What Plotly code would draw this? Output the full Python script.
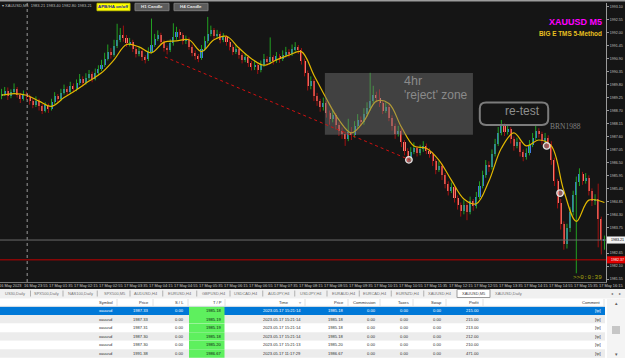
import plotly.graph_objects as go

W, H = 625, 358
def px(x): return x / W
def py(y): return 1 - y / H

# ---------------- chart data (XAUUSD M5) ----------------
first_open = 1989.30
close = [1989.40, 1989.55, 1989.30, 1989.48, 1989.62, 1989.35, 1989.20, 1989.42, 1989.28, 1989.10,
         1988.95, 1989.12, 1988.88, 1988.70, 1988.92, 1988.78, 1989.05, 1989.30, 1989.18, 1989.45,
         1989.62, 1989.50, 1989.75, 1989.60, 1989.85, 1990.05, 1989.88, 1990.10, 1990.25, 1990.05,
         1990.30, 1990.45, 1990.62, 1990.90, 1991.20, 1991.05, 1991.45, 1991.70, 1991.92, 1991.78,
         1991.55, 1991.60, 1991.30, 1991.10, 1991.22, 1990.95, 1990.88, 1991.20, 1991.50, 1991.75,
         1991.90, 1991.60, 1991.35, 1991.25, 1991.55, 1991.80, 1992.02, 1991.90, 1991.65, 1991.70,
         1991.40, 1991.15, 1991.00, 1990.92, 1991.30, 1991.65, 1991.95, 1992.10, 1991.85, 1991.95,
         1991.70, 1991.80, 1991.60, 1991.40, 1991.20, 1991.30, 1991.05, 1990.85, 1990.95, 1990.70,
         1990.55, 1990.62, 1990.40, 1990.65, 1990.90, 1990.75, 1990.95, 1990.80, 1991.00, 1990.88,
         1991.05, 1991.20, 1991.10, 1991.30, 1991.38, 1991.25, 1990.80, 1990.30, 1989.75, 1989.95,
         1989.30, 1989.10, 1988.85, 1989.00, 1988.60, 1988.35, 1988.50, 1988.10, 1987.85, 1987.70,
         1987.48, 1987.80, 1987.65, 1988.05, 1988.30, 1988.20, 1988.55, 1988.80, 1989.10, 1989.35,
         1989.25, 1989.00, 1988.70, 1988.85, 1988.40, 1988.05, 1987.70, 1987.85, 1987.35, 1987.00,
         1986.70, 1986.95, 1987.10, 1986.90, 1987.05, 1987.20, 1987.00, 1986.85, 1986.55, 1986.20,
         1986.35, 1985.95, 1985.60, 1985.30, 1985.45, 1985.00, 1984.70, 1984.45, 1984.70, 1984.40,
         1984.85, 1984.65, 1985.05, 1985.50, 1985.95, 1986.40, 1986.30, 1986.85, 1987.30, 1987.75,
         1988.05, 1987.80, 1987.90, 1987.50, 1987.20, 1987.35, 1986.95, 1986.75, 1986.90, 1987.25,
         1987.55, 1987.85, 1987.70, 1987.40, 1987.55, 1987.30, 1986.60, 1985.70, 1984.80, 1983.90,
         1983.05, 1983.70, 1984.40, 1985.10, 1985.65, 1986.00, 1985.70, 1985.85, 1985.30, 1984.85,
         1984.95, 1984.10, 1983.21, 1983.21]
high = [1989.62, 1989.70, 1989.68, 1989.60, 1989.85, 1989.70, 1989.45, 1989.55, 1989.50, 1989.38,
        1989.22, 1989.30, 1989.20, 1988.98, 1989.05, 1989.00, 1989.20, 1989.48, 1989.40, 1989.62,
        1989.80, 1989.72, 1989.92, 1989.85, 1990.02, 1990.25, 1990.15, 1990.28, 1990.42, 1990.35,
        1990.48, 1990.62, 1990.85, 1991.15, 1991.50, 1991.35, 1991.70, 1992.38, 1992.20, 1992.30,
        1991.90, 1991.78, 1991.70, 1991.40, 1991.38, 1991.30, 1991.05, 1991.38, 1992.60, 1991.95,
        1992.10, 1992.00, 1991.70, 1991.45, 1991.72, 1992.40, 1992.25, 1992.15, 1992.00, 1991.88,
        1991.80, 1991.50, 1991.25, 1991.10, 1991.48, 1991.85, 1992.67, 1992.30, 1992.20, 1992.12,
        1992.05, 1991.98, 1991.90, 1991.70, 1991.50, 1991.48, 1991.40, 1991.15, 1991.12, 1991.05,
        1990.80, 1990.80, 1990.70, 1990.82, 1991.10, 1991.00, 1991.80, 1991.05, 1991.18, 1991.10,
        1991.25, 1991.40, 1991.30, 1991.50, 1991.60, 1991.48, 1991.35, 1990.90, 1990.40, 1990.15,
        1990.05, 1989.45, 1989.20, 1989.25, 1989.10, 1988.70, 1988.75, 1988.60, 1988.20, 1987.98,
        1987.80, 1988.35, 1988.00, 1988.25, 1988.55, 1988.45, 1988.80, 1989.05, 1990.30, 1989.75,
        1989.50, 1989.60, 1989.10, 1989.05, 1988.95, 1988.50, 1988.15, 1988.05, 1987.95, 1987.45,
        1987.10, 1987.15, 1987.35, 1987.20, 1987.25, 1987.40, 1987.30, 1987.10, 1986.95, 1986.65,
        1986.55, 1986.45, 1986.05, 1985.70, 1985.65, 1985.55, 1985.10, 1984.80, 1984.90, 1984.80,
        1985.05, 1984.95, 1985.25, 1985.70, 1986.15, 1986.60, 1986.55, 1987.05, 1987.50, 1988.00,
        1988.30, 1988.15, 1988.10, 1988.00, 1987.60, 1987.55, 1987.45, 1987.05, 1987.10, 1987.45,
        1987.75, 1988.10, 1987.95, 1987.80, 1987.75, 1987.65, 1987.40, 1986.70, 1985.80, 1984.95,
        1984.00, 1983.90, 1984.60, 1985.30, 1985.90, 1986.25, 1986.10, 1986.05, 1985.95, 1985.40,
        1985.15, 1985.60, 1984.20, 1983.40]
low = [1989.18, 1989.32, 1989.15, 1989.22, 1989.40, 1989.25, 1989.02, 1989.12, 1989.15, 1988.95,
       1988.80, 1988.85, 1988.70, 1988.55, 1988.62, 1988.60, 1988.70, 1988.98, 1989.05, 1989.10,
       1989.38, 1989.35, 1989.42, 1989.48, 1989.52, 1989.78, 1989.72, 1989.80, 1990.00, 1989.90,
       1989.98, 1990.20, 1990.38, 1990.55, 1990.82, 1990.90, 1990.98, 1991.35, 1991.60, 1991.62,
       1991.40, 1991.42, 1991.18, 1990.95, 1991.00, 1990.80, 1990.70, 1990.80, 1991.12, 1991.40,
       1991.65, 1991.48, 1991.20, 1991.08, 1991.18, 1991.45, 1991.70, 1991.75, 1991.50, 1991.52,
       1991.28, 1991.00, 1990.85, 1990.75, 1990.85, 1991.22, 1991.55, 1991.85, 1991.72, 1991.75,
       1991.55, 1991.60, 1991.45, 1991.25, 1991.05, 1991.10, 1990.90, 1990.70, 1990.75, 1990.55,
       1990.40, 1990.42, 1990.25, 1990.32, 1990.55, 1990.60, 1990.68, 1990.65, 1990.72, 1990.72,
       1990.80, 1990.95, 1990.95, 1991.02, 1991.20, 1991.10, 1990.65, 1990.15, 1989.55, 1989.60,
       1989.10, 1988.90, 1988.65, 1988.70, 1988.40, 1988.10, 1988.20, 1987.90, 1987.62, 1987.50,
       1987.20, 1987.40, 1987.45, 1987.55, 1987.95, 1988.05, 1988.10, 1988.45, 1988.70, 1989.00,
       1989.05, 1988.85, 1988.55, 1988.60, 1988.25, 1987.85, 1987.50, 1987.60, 1987.15, 1986.80,
       1986.50, 1986.60, 1986.85, 1986.75, 1986.80, 1986.95, 1986.85, 1986.70, 1986.35, 1986.00,
       1986.10, 1985.75, 1985.40, 1985.10, 1985.20, 1984.80, 1984.50, 1984.20, 1984.30, 1984.05,
       1984.30, 1984.45, 1984.55, 1984.95, 1985.40, 1985.85, 1986.10, 1986.20, 1986.75, 1987.20,
       1987.65, 1987.62, 1987.68, 1987.30, 1987.00, 1987.10, 1986.75, 1986.55, 1986.62, 1986.80,
       1987.15, 1987.45, 1987.55, 1987.25, 1987.30, 1987.10, 1986.40, 1985.50, 1984.55, 1983.65,
       1982.80, 1982.85, 1983.55, 1984.25, 1981.80, 1985.50, 1985.55, 1985.60, 1985.10, 1984.65,
       1984.70, 1982.90, 1982.60, 1982.80]
opens = [first_open] + close[:-1]

# yellow moving-average line (read at every 4th bar)
ma_bars = [0, 4, 8, 12, 16, 20, 24, 28, 32, 36, 40, 44, 48, 52, 56, 60, 64, 68, 72, 76, 80, 84, 88,
           92, 96, 100, 104, 108, 112, 116, 120, 124, 128, 132, 136, 140, 144, 148, 152, 156, 160,
           164, 168, 172, 176, 180, 184, 188, 193]
ma_vals = [1989.35, 1989.42, 1989.35, 1989.10, 1988.88, 1989.25, 1989.58, 1989.95, 1990.30, 1990.85,
           1991.50, 1991.40, 1991.15, 1991.60, 1991.65, 1991.70, 1991.20, 1991.70, 1991.85, 1991.35,
           1990.90, 1990.62, 1990.85, 1991.05, 1991.20, 1990.20, 1989.20, 1988.30, 1987.75, 1988.25,
           1989.10, 1989.00, 1988.00, 1987.20, 1987.10, 1986.60, 1985.75, 1984.95, 1984.75, 1985.70,
           1987.10, 1987.75, 1987.20, 1987.45, 1987.20, 1985.30, 1984.00, 1984.90, 1984.80]

price_ticks = [1981.55, 1982.10, 1982.65, 1983.20, 1983.75, 1984.30, 1984.85, 1985.40, 1985.95,
               1986.50, 1987.05, 1987.60, 1988.15, 1988.70, 1989.25, 1989.80, 1990.35, 1990.90,
               1991.45, 1992.00, 1992.55, 1993.10]
time_labels = ["16 May 23:55", "17 May 01:35", "17 May 02:15", "17 May 02:55", "17 May 03:35",
               "17 May 04:15", "17 May 04:55", "17 May 05:35", "17 May 06:15", "17 May 06:55",
               "17 May 07:35", "17 May 08:15", "17 May 08:55", "17 May 09:35", "17 May 10:15",
               "17 May 10:55", "17 May 11:35", "17 May 12:15", "17 May 12:55", "17 May 13:35",
               "17 May 14:15", "17 May 14:55", "17 May 15:35", "17 May 16:15"]
time_label_bars = [7 + 8 * k for k in range(len(time_labels))]

bid_price = 1983.21
red_level = 1982.37

# ---------------- terminal table data ----------------
tabs = ["US30,Daily", "SPX500,Daily", "NAS100,Daily", "SPX500,M5", "AUDUSD,H4", "EURUSD,H4",
        "GBPUSD,H4", "USDCAD,H4", "AUDJPY,H4", "USDJPY,H4", "EURAUD,H4", "EURCAD,H4",
        "EURNZD,H4", "XAUUSD,H4", "XAUUSD,M5", "XAUUSD,Daily"]
headers = ["Symbol", "Price", "S / L", "T / P", "Time", "Price", "Commission", "Taxes", "Swap",
           "Profit", "Comment"]
symbols = ["xauusd"] * 6
open_price = ["1987.33", "1987.33", "1987.31", "1987.30", "1987.30", "1991.38"]
stop_loss = ["0.00"] * 6
take_profit = ["1985.18", "1985.19", "1985.19", "1985.18", "1985.20", "1986.67"]
close_time = ["2023.05.17 15:21:14", "2023.05.17 15:21:14", "2023.05.17 15:21:14",
              "2023.05.17 15:21:14", "2023.05.17 15:21:13", "2023.05.17 11:17:29"]
close_price = ["1985.18", "1985.18", "1985.18", "1985.18", "1985.20", "1986.67"]
commission = ["0.00"] * 6
taxes = ["0.00"] * 6
swap = ["0.00"] * 6
profit = ["215.00", "215.00", "213.00", "212.00", "210.00", "471.00"]
comment = ["[tp]"] * 6

# ---------------- styles ----------------
BG = "#151515"
BULL_BODY, BEAR_BODY = "#3d7be0", "#f47e70"
BULL_WICK, BEAR_WICK = "#22a022", "#a01010"
FONT = "Liberation Sans, Arial, sans-serif"

n = len(close)
idx = list(range(n))
bull = [c >= o for o, c in zip(opens, close)]

fig = go.Figure()

# wicks
for flag, col in ((True, BULL_WICK), (False, BEAR_WICK)):
    xs, ys = [], []
    for i in idx:
        if bull[i] == flag:
            xs += [i, i, None]
            ys += [low[i], high[i], None]
    fig.add_trace(go.Scatter(x=xs, y=ys, mode="lines", line=dict(color=col, width=1),
                             hoverinfo="skip"))

# bodies
bottoms = [min(o, c) for o, c in zip(opens, close)]
heights = [max(abs(c - o), 0.02) for o, c in zip(opens, close)]
fig.add_trace(go.Bar(x=idx, y=heights, base=bottoms, width=0.66,
                     marker=dict(color=[BULL_BODY if b else BEAR_BODY for b in bull], line_width=0)))

# moving average
fig.add_trace(go.Scatter(x=ma_bars, y=ma_vals, mode="lines",
                         line=dict(color="#e2b800", width=1.2, shape="spline", smoothing=1.0)))

# trade-close markers
fig.add_trace(go.Scatter(x=[130.4, 174.5, 178.8], y=[1986.61, 1987.20, 1985.20], mode="markers",
                         marker=dict(size=6.5, color="rgba(240,150,150,0.55)",
                                     line=dict(color="#e0e0e0", width=1.4))))

shapes = []
# reject zone
shapes.append(dict(type="rect", xref="x", yref="y", x0=103.5, x1=150.9, y0=1987.67, y1=1990.29,
                   fillcolor="rgba(120,120,120,0.45)", line_width=0, layer="above"))
# red dotted trendline
shapes.append(dict(type="line", xref="x", yref="y", x0=52.3, y0=1990.97, x1=130.7, y1=1986.61,
                   line=dict(color="#d01010", width=1, dash="dot")))
# day separator
shapes.append(dict(type="line", xref="x", yref="paper", x0=8.2, x1=8.2, y0=py(282), y1=py(3),
                   line=dict(color="#9a9a9a", width=1, dash="dot")))
# bid and red level lines
shapes.append(dict(type="line", xref="paper", yref="y", x0=0, x1=px(606), y0=bid_price,
                   y1=bid_price, line=dict(color="#6a6a6a", width=1)))
shapes.append(dict(type="line", xref="paper", yref="y", x0=0, x1=px(606), y0=red_level,
                   y1=red_level, line=dict(color="#c00000", width=1)))
# re-test rounded box
x0, x1, y0, y1, rx, ry = 153.1, 175.0, 1988.09, 1989.04, 2.0, 0.25
path = (f"M {x0+rx},{y1} L {x1-rx},{y1} Q {x1},{y1} {x1},{y1-ry} L {x1},{y0+ry} "
        f"Q {x1},{y0} {x1-rx},{y0} L {x0+rx},{y0} Q {x0},{y0} {x0},{y0+ry} "
        f"L {x0},{y1-ry} Q {x0},{y1} {x0+rx},{y1} Z")
shapes.append(dict(type="path", xref="x", yref="y", path=path,
                   line=dict(color="#7c7c7c", width=2)))

# top border strip
shapes.append(dict(type="rect", xref="paper", yref="paper", x0=0, x1=1, y0=py(1.5), y1=1,
                   fillcolor="#9c9c9c", line_width=0, layer="above"))
# buttons
shapes.append(dict(type="rect", xref="paper", yref="paper", x0=px(97), x1=px(130), y0=py(10.7),
                   y1=py(3.3), fillcolor="#ffff00", line=dict(color="#c8c800", width=1), layer="above"))
for bx in (135, 174):
    shapes.append(dict(type="rect", xref="paper", yref="paper", x0=px(bx), x1=px(bx + 34),
                       y0=py(10.7), y1=py(3.3), fillcolor="#5c5c5c",
                       line=dict(color="#7a7a7a", width=1), layer="above"))
# price boxes on axis
shapes.append(dict(type="rect", xref="paper", yref="y", x0=px(607), x1=1, y0=bid_price - 0.15,
                   y1=bid_price + 0.15, fillcolor="#f2f2f2", line_width=0, layer="above"))
shapes.append(dict(type="rect", xref="paper", yref="y", x0=px(607), x1=1, y0=red_level - 0.15,
                   y1=red_level + 0.15, fillcolor="#e00000", line_width=0, layer="above"))

# lower light panel (tab bar + table)
shapes.append(dict(type="rect", xref="paper", yref="paper", x0=0, x1=1, y0=0, y1=py(289),
                   fillcolor="#f0f0f0", line_width=0, layer="above"))
shapes.append(dict(type="rect", xref="paper", yref="paper", x0=0, x1=1, y0=0, y1=py(298.5),
                   fillcolor="#ffffff", line_width=0, layer="above"))
# active tab
shapes.append(dict(type="rect", xref="paper", yref="paper", x0=px(457), x1=px(490), y0=py(297.5),
                   y1=py(289.5), fillcolor="#ffffff", line=dict(color="#9a9a9a", width=1),
                   layer="above"))

annotations = []
def ann(x, y, text, size, color, xanchor="left", yanchor="middle", xref="paper", yref="paper",
        family=FONT, bold=False, bg=None):
    t = f"<b>{text}</b>" if bold else text
    d = dict(x=x, y=y, xref=xref, yref=yref, text=t, showarrow=False, xanchor=xanchor,
             yanchor=yanchor, font=dict(size=size, color=color, family=family),
             borderpad=0)
    if bg:
        d["bgcolor"] = bg
    annotations.append(d)

# top texts
ann(px(1), py(5.5), "▾ XAUUSD,M5  1983.21 1983.40 1982.80 1983.21", 4, "#b8b8b8")
ann(px(113.5), py(7), "APB/HA on/off", 4.4, "#1a1aa0", xanchor="center", bold=True)
ann(px(152), py(7), "H1 Candle", 4.4, "#e8e8e8", xanchor="center", bold=True)
ann(px(191), py(7), "H4 Candle", 4.4, "#e8e8e8", xanchor="center", bold=True)
ann(px(603), py(22), "XAUUSD M5", 9, "#ff00ff", xanchor="right", bold=True)
ann(px(603), py(33.5), "BIG E TMS 5-Method", 6.4, "#e8c020", xanchor="right", bold=True)

# chart notes
ann(128.5, 1989.96, "4hr", 12.5, "#8a8a8a", xref="x", yref="y")
ann(128.5, 1989.34, "'reject' zone", 12, "#8a8a8a", xref="x", yref="y")
ann(166.7, 1988.70, "re-test", 12, "#8e8e8e", xanchor="center", xref="x", yref="y")
ann(175.2, 1988.03, "BRN1988", 7.5, "#808080", xref="x", yref="y",
    family="Liberation Serif, Times New Roman, serif")
ann(px(603), py(277), ">>0:0:39", 6, "#a8a810", xanchor="right",
    family="Liberation Mono, Courier New, monospace")

# price boxes text
ann(1, bid_price, f"{bid_price:.2f}", 3.6, "#000000", xanchor="right", yref="y")
ann(1, red_level, f"{red_level:.2f}", 3.6, "#ffffff", xanchor="right", yref="y")

# time labels
ann(px(-2), py(285.5), "16 May 2023", 3.9, "#c8c8c8")
for b, t in zip(time_label_bars, time_labels):
    ann(b - 0.2, py(285.5), t, 3.9, "#c8c8c8", xref="x")

# tabs
tab_centers = [15, 46, 80, 114.5, 145.5, 180, 213.5, 246.5, 279, 310.5, 343.5, 375, 407.5, 440,
               473.5, 508.5]
for c, t in zip(tab_centers, tabs):
    ann(px(c), py(293.5), t, 4, "#707070" if t != "XAUUSD,M5" else "#404040", xanchor="center")
for i in range(len(tab_centers) - 1):
    if i in (13, 14):
        continue
    m = (tab_centers[i] + tab_centers[i + 1]) / 2
    shapes.append(dict(type="line", xref="paper", yref="paper", x0=px(m), x1=px(m),
                       y0=py(296.5), y1=py(290.5), line=dict(color="#b0b0b0", width=1),
                       layer="above"))
ann(px(612), py(293.5), "◂", 4, "#606060", xanchor="center")
ann(px(620), py(293.5), "▸", 4, "#606060", xanchor="center")

# table
col_right = [114, 150, 185, 223, 302, 345, 377, 410, 443, 480, 602]
col_sep = [117, 153, 188, 225, 305, 348, 380, 413, 446, 483, 604]
header_y = 302.5
row_top, row_h = 306.5, 8.55
rows = list(zip(symbols, open_price, stop_loss, take_profit, close_time, close_price,
                commission, taxes, swap, profit, comment))
for r in range(len(rows)):
    y_top = row_top + r * row_h
    fill = "#0078d7" if r == 0 else ("#ececec" if r % 2 == 1 else "#ffffff")
    shapes.append(dict(type="rect", xref="paper", yref="paper", x0=0, x1=px(605),
                       y0=py(y_top + row_h), y1=py(y_top), fillcolor=fill, line_width=0,
                       layer="above"))
    shapes.append(dict(type="rect", xref="paper", yref="paper", x0=px(189), x1=px(224.5),
                       y0=py(y_top + row_h), y1=py(y_top), fillcolor="#5ef05e", line_width=0,
                       layer="above"))
    for c, val in enumerate(rows[r]):
        color = "#ffffff" if r == 0 else "#303030"
        if c == 3:
            color = "#101010"
        ann(px(col_right[c]), py(y_top + row_h / 2), val, 4.1, color, xanchor="right")
for c, h in enumerate(headers):
    xr = col_right[c] - (12 if h == "Time" else 0)
    ann(px(xr), py(header_y), h, 4.1, "#303030", xanchor="right")
ann(px(300), py(header_y), "▿", 4, "#707070", xanchor="center")
for s in col_sep:
    shapes.append(dict(type="line", xref="paper", yref="paper", x0=px(s), x1=px(s),
                       y0=py(306), y1=py(299), line=dict(color="#e0e0e0", width=1),
                       layer="above"))
shapes.append(dict(type="line", xref="paper", yref="paper", x0=0, x1=px(605), y0=py(306.3),
                   y1=py(306.3), line=dict(color="#e4e4e4", width=1), layer="above"))
# scrollbar
shapes.append(dict(type="rect", xref="paper", yref="paper", x0=px(607), x1=1, y0=0, y1=py(299),
                   fillcolor="#f4f4f4", line_width=0, layer="above"))
shapes.append(dict(type="rect", xref="paper", yref="paper", x0=px(612), x1=px(620), y0=py(334),
                   y1=py(326), fillcolor="#c6c6c6", line_width=0, layer="above"))
ann(px(616), py(303), "▴", 4.5, "#606060", xanchor="center")
ann(px(616), py(354), "▾", 4.5, "#606060", xanchor="center")

fig.update_layout(
    width=W, height=H, margin=dict(l=0, r=0, t=0, b=0),
    paper_bgcolor=BG, plot_bgcolor=BG, showlegend=False, barmode="overlay", bargap=0,
    shapes=shapes, annotations=annotations, hovermode=False,
    xaxis=dict(domain=[0, px(606)], range=[-0.5, n - 0.5], showgrid=False, zeroline=False,
               showticklabels=False, showline=True, linecolor="#7a7a7a", linewidth=1,
               fixedrange=True),
    yaxis=dict(domain=[py(282), py(3)], range=[1981.43, 1993.26], side="right",
               tickvals=price_ticks, ticktext=[f"{v:.2f}" for v in price_ticks],
               tickfont=dict(size=3.6, color="#c0c0c0", family=FONT), ticks="outside",
               ticklen=2, tickcolor="#9a9a9a", showline=True, linecolor="#9a9a9a",
               linewidth=1, showgrid=False, zeroline=False, fixedrange=True),
)

fig.write_html("out.html")
